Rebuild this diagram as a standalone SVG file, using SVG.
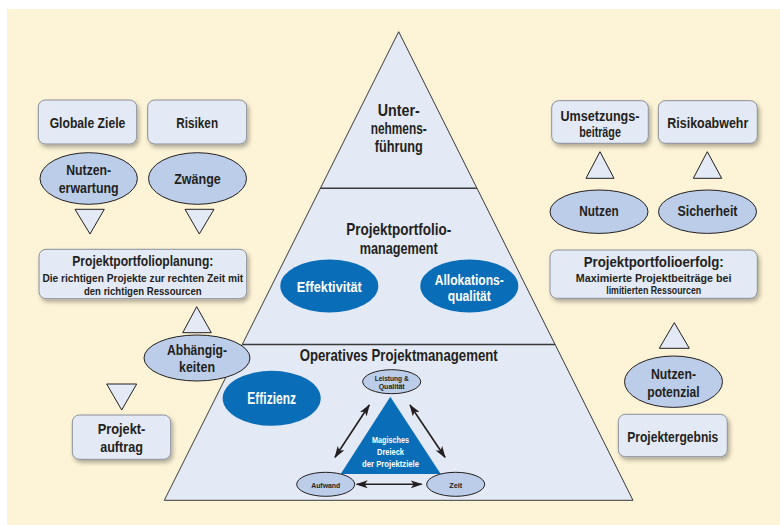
<svg xmlns="http://www.w3.org/2000/svg" width="780" height="525" viewBox="0 0 780 525">
  <defs>
    <style>
      text { font-family: "Liberation Sans", "DejaVu Sans", sans-serif; font-weight: bold; text-anchor: middle; fill: #231f20; }
      .box { fill: #e3e9f5; stroke: #8a8f99; stroke-width: 1; filter: url(#shadow); }
      .oval { fill: #bccde9; stroke: #231f20; stroke-width: 1; }
      .tri { fill: #e3e9f5; stroke: #231f20; stroke-width: 1; }
      .blue { fill: #0a6db7; }
      .w { fill: #ffffff; }
      .layer { fill: #e3e9f5; stroke: #3a3a3a; stroke-width: 1; }
      .sep { stroke: #3a3a3a; stroke-width: 1.4; }
      .arr { stroke: #231f20; stroke-width: 1.6; fill: none; marker-start: url(#head); marker-end: url(#head); }
      .t14 { font-size: 14px; }
      .t15 { font-size: 15px; }
      .t17 { font-size: 17px; }
      .t11 { font-size: 11px; }
      .t9 { font-size: 9.5px; }
      .t8 { font-size: 8px; }
    </style>
    <filter id="shadow" x="-10%" y="-20%" width="125%" height="150%">
      <feDropShadow dx="2" dy="3" stdDeviation="2" flood-color="#000" flood-opacity="0.3"/>
    </filter>
    <marker id="head" viewBox="0 0 12 8" refX="11" refY="4" markerWidth="12" markerHeight="8" markerUnits="userSpaceOnUse" orient="auto-start-reverse">
      <path d="M0,0 L12,4 L0,8 L3,4 Z" fill="#231f20"/>
    </marker>
  </defs>

  <!-- page background -->
  <rect x="0" y="0" width="780" height="525" fill="#ffffff"/>
  <rect x="7" y="9" width="773" height="516" fill="#fdf3d6"/>

  <!-- pyramid -->
  <g id="pyramid">
    <polygon class="layer" points="398.7,31.7 633,500.3 164.3,500.3"/>
    <line class="sep" x1="320.4" y1="188.3" x2="477" y2="188.3"/>
    <line class="sep" x1="242.3" y1="344.5" x2="555.1" y2="344.5"/>
  </g>

  <g id="unternehmensfuehrung">
    <text class="t17" x="398.7" y="115.5" textLength="42" lengthAdjust="spacingAndGlyphs">Unter-</text>
    <text class="t17" x="398.7" y="133.5" textLength="56" lengthAdjust="spacingAndGlyphs">nehmens-</text>
    <text class="t17" x="398.7" y="151.5" textLength="48" lengthAdjust="spacingAndGlyphs">führung</text>
  </g>

  <g id="ppm">
    <text class="t17" x="398.7" y="235" textLength="105" lengthAdjust="spacingAndGlyphs">Projektportfolio-</text>
    <text class="t17" x="398.7" y="253.5" textLength="78" lengthAdjust="spacingAndGlyphs">management</text>
  </g>

  <g id="effektivitaet">
    <ellipse class="blue" cx="329.3" cy="286" rx="49" ry="26.5"/>
    <text class="t15 w" x="329.3" y="291.5" textLength="65" lengthAdjust="spacingAndGlyphs">Effektivität</text>
  </g>

  <g id="allokation">
    <ellipse class="blue" cx="469.3" cy="286" rx="49" ry="26.5"/>
    <text class="t14 w" x="469.3" y="285" textLength="69" lengthAdjust="spacingAndGlyphs">Allokations-</text>
    <text class="t14 w" x="469.3" y="301" textLength="43" lengthAdjust="spacingAndGlyphs">qualität</text>
  </g>

  <g id="operativ">
    <text class="t17" x="398.7" y="360.5" textLength="198" lengthAdjust="spacingAndGlyphs">Operatives Projektmanagement</text>
  </g>

  <g id="effizienz">
    <ellipse class="blue" cx="271.7" cy="398.3" rx="49" ry="27.5"/>
    <text class="w" x="271.7" y="403.5" style="font-size:16px" textLength="48.7" lengthAdjust="spacingAndGlyphs">Effizienz</text>
  </g>

  <g id="magisches-dreieck">
    <polygon class="blue" points="390.3,396.7 440.7,474 340.7,474"/>
    <text class="t9 w" x="390.5" y="443.3" textLength="37" lengthAdjust="spacingAndGlyphs">Magisches</text>
    <text class="t9 w" x="390.5" y="455" textLength="27" lengthAdjust="spacingAndGlyphs">Dreieck</text>
    <text class="t9 w" x="390.5" y="467.3" textLength="57" lengthAdjust="spacingAndGlyphs">der Projektziele</text>
  </g>

  <g id="leistung">
    <ellipse class="oval" cx="391.7" cy="381.7" rx="29" ry="12"/>
    <text class="t8" x="391.7" y="380.5" textLength="34" lengthAdjust="spacingAndGlyphs">Leistung &amp;</text>
    <text class="t8" x="391.7" y="389.3" textLength="26" lengthAdjust="spacingAndGlyphs">Qualität</text>
  </g>

  <g id="aufwand">
    <ellipse class="oval" cx="325.7" cy="484.3" rx="29" ry="12"/>
    <text class="t8" x="325.7" y="487.7" textLength="29" lengthAdjust="spacingAndGlyphs">Aufwand</text>
  </g>

  <g id="zeit">
    <ellipse class="oval" cx="455.7" cy="484.3" rx="29" ry="12"/>
    <text class="t8" x="455.7" y="487.7" textLength="13" lengthAdjust="spacingAndGlyphs">Zeit</text>
  </g>

  <!-- left column -->
  <g id="globale-ziele">
    <rect class="box" x="38.3" y="100" width="98.4" height="44" rx="7"/>
    <text class="t15" x="87.5" y="128.3" textLength="75.7" lengthAdjust="spacingAndGlyphs">Globale Ziele</text>
  </g>

  <g id="risiken">
    <rect class="box" x="147.7" y="100" width="99" height="44" rx="7"/>
    <text class="t15" x="197.2" y="128.3" textLength="41.7" lengthAdjust="spacingAndGlyphs">Risiken</text>
  </g>

  <g id="nutzenerwartung">
    <ellipse class="oval" cx="88.7" cy="178.5" rx="48.7" ry="25.8"/>
    <text class="t15" x="88.7" y="175" textLength="45" lengthAdjust="spacingAndGlyphs">Nutzen-</text>
    <text class="t15" x="88.7" y="193.3" textLength="60" lengthAdjust="spacingAndGlyphs">erwartung</text>
  </g>

  <g id="zwaenge">
    <ellipse class="oval" cx="197.5" cy="178.5" rx="49" ry="25.8"/>
    <text class="t15" x="197.5" y="184" textLength="46.7" lengthAdjust="spacingAndGlyphs">Zwänge</text>
  </g>

  <g id="planung">
    <rect class="box" x="39" y="249.3" width="207.7" height="49.4" rx="7"/>
    <text class="t15" x="142.8" y="266" textLength="141" lengthAdjust="spacingAndGlyphs">Projektportfolioplanung:</text>
    <text class="t11" x="142.8" y="282.3" textLength="200.7" lengthAdjust="spacingAndGlyphs">Die richtigen Projekte zur rechten Zeit mit</text>
    <text class="t11" x="142.8" y="295" textLength="117.7" lengthAdjust="spacingAndGlyphs">den richtigen Ressourcen</text>
  </g>

  <g id="abhaengigkeiten">
    <ellipse class="oval" cx="197" cy="358" rx="53" ry="23"/>
    <text class="t15" x="197" y="355" textLength="60" lengthAdjust="spacingAndGlyphs">Abhängig-</text>
    <text class="t15" x="197" y="372.3" textLength="36" lengthAdjust="spacingAndGlyphs">keiten</text>
  </g>

  <g id="projektauftrag">
    <rect class="box" x="72.3" y="415" width="98.4" height="44.3" rx="7"/>
    <text class="t15" x="121.5" y="434.3" textLength="47.7" lengthAdjust="spacingAndGlyphs">Projekt-</text>
    <text class="t15" x="121.5" y="451.7" textLength="42.7" lengthAdjust="spacingAndGlyphs">auftrag</text>
  </g>

  <!-- right column -->
  <g id="umsetzungsbeitraege">
    <rect class="box" x="551.7" y="100.7" width="96.6" height="42.6" rx="7"/>
    <text class="t14" x="600" y="121" textLength="79" lengthAdjust="spacingAndGlyphs">Umsetzungs-</text>
    <text class="t14" x="600" y="137" textLength="41.7" lengthAdjust="spacingAndGlyphs">beiträge</text>
  </g>

  <g id="risikoabwehr">
    <rect class="box" x="658.3" y="100.7" width="99" height="42.6" rx="7"/>
    <text class="t15" x="707.8" y="128.3" textLength="81" lengthAdjust="spacingAndGlyphs">Risikoabwehr</text>
  </g>

  <g id="nutzen">
    <ellipse class="oval" cx="599" cy="211.7" rx="49" ry="21.7"/>
    <text class="t15" x="599" y="216" textLength="39.3" lengthAdjust="spacingAndGlyphs">Nutzen</text>
  </g>

  <g id="sicherheit">
    <ellipse class="oval" cx="707.5" cy="211.7" rx="49" ry="21.7"/>
    <text class="t15" x="707.5" y="216" textLength="60" lengthAdjust="spacingAndGlyphs">Sicherheit</text>
  </g>

  <g id="erfolg">
    <rect class="box" x="550" y="250" width="207.3" height="48.3" rx="7"/>
    <text class="t15" x="653.7" y="267.3" textLength="140" lengthAdjust="spacingAndGlyphs">Projektportfolioerfolg:</text>
    <text class="t11" x="653.7" y="281.7" textLength="155.7" lengthAdjust="spacingAndGlyphs">Maximierte Projektbeiträge bei</text>
    <text class="t11" x="653.7" y="294.3" textLength="95" lengthAdjust="spacingAndGlyphs">limitierten Ressourcen</text>
  </g>

  <g id="nutzenpotenzial">
    <ellipse class="oval" cx="673.5" cy="381.7" rx="49" ry="25.7"/>
    <text class="t15" x="673.5" y="379" textLength="45" lengthAdjust="spacingAndGlyphs">Nutzen-</text>
    <text class="t15" x="673.5" y="396.7" textLength="52.3" lengthAdjust="spacingAndGlyphs">potenzial</text>
  </g>

  <g id="projektergebnis">
    <rect class="box" x="618.3" y="414.3" width="109" height="42.4" rx="7"/>
    <text class="t15" x="672.8" y="441.7" textLength="91" lengthAdjust="spacingAndGlyphs">Projektergebnis</text>
  </g>

  <!-- connectors: flow triangles and double-headed arrows -->
  <g id="connectors">
    <polygon class="tri" points="75,209.3 104.3,209.3 90,234"/>
    <polygon class="tri" points="185,209.3 214,209.3 199.3,234"/>
    <polygon class="tri" points="196.7,306.7 211.3,332.7 182.7,332.7"/>
    <polygon class="tri" points="106.7,384 136.7,384 121.7,410"/>
    <polygon class="tri" points="600,151.7 614,178.3 586,178.3"/>
    <polygon class="tri" points="707.3,151.7 721.7,178.3 693.3,178.3"/>
    <polygon class="tri" points="674.3,322.7 689.3,348.3 659.3,348.3"/>
    <line class="arr" x1="335" y1="457.3" x2="369.3" y2="405"/>
    <line class="arr" x1="410" y1="405" x2="445" y2="457.3"/>
    <line class="arr" x1="356.7" y1="484.3" x2="421.7" y2="484.3"/>
  </g>
</svg>
